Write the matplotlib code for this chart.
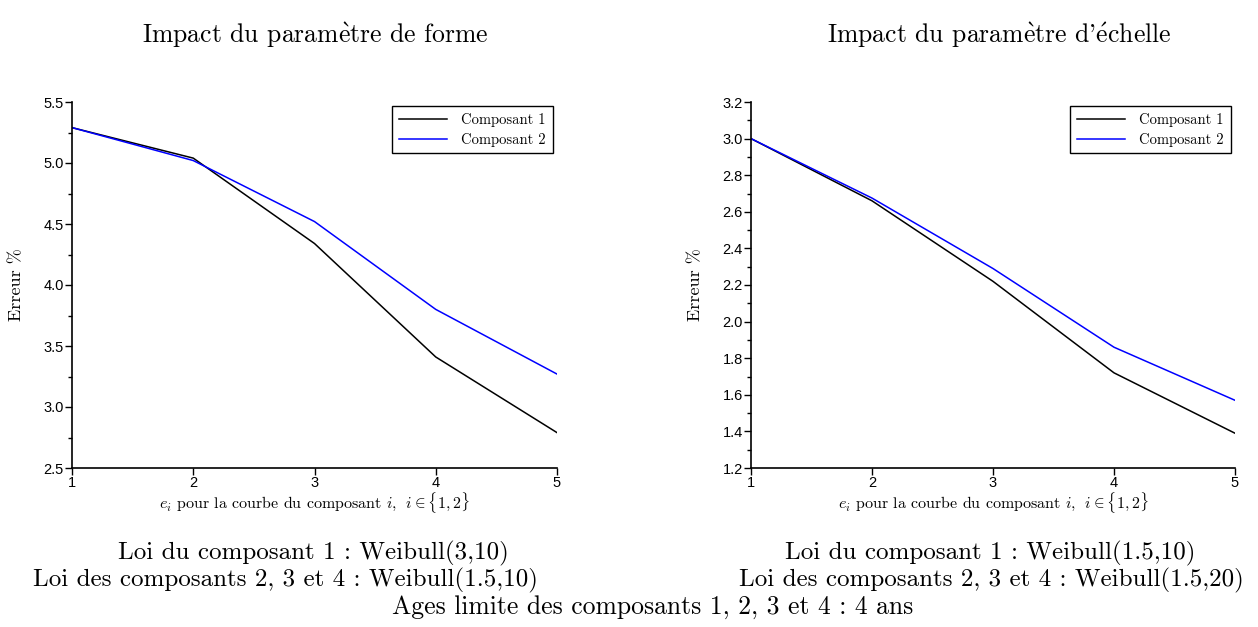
import numpy as np
import matplotlib
matplotlib.use("Agg")
import matplotlib.pyplot as plt
from matplotlib.ticker import MultipleLocator, FormatStrFormatter

plt.rcParams["mathtext.fontset"] = "cm"
SERIF = ["cmr10", "DejaVu Serif"]
SANS = "Liberation Sans"

e = [1, 2, 3, 4, 5]
forme_c1 = [5.29, 5.04, 4.34, 3.41, 2.79]
forme_c2 = [5.29, 5.02, 4.52, 3.80, 3.27]
echelle_c1 = [3.00, 2.66, 2.22, 1.72, 1.39]
echelle_c2 = [3.00, 2.675, 2.29, 1.86, 1.57]

# accents through mathtext, cmr10 has no è / é
titles = [r"Impact du param$\grave{\mathrm{e}}$tre de forme",
          r"Impact du param$\grave{\mathrm{e}}$tre d'$\acute{\mathrm{e}}$chelle"]
captions_left = ["Loi du composant 1 : Weibull(3,10)",
                 "Loi des composants 2, 3 et 4 : Weibull(1.5,10)"]
captions_right = ["Loi du composant 1 : Weibull(1.5,10)",
                  "Loi des composants 2, 3 et 4 : Weibull(1.5,20)"]
footer = "Ages limite des composants 1, 2, 3 et 4 : 4 ans"

fig = plt.figure(figsize=(12.58, 6.27), dpi=100)
W, H = 1258, 627
ax1 = fig.add_axes([72 / W, 1 - 468 / H, (557 - 72) / W, (468 - 102) / H])
ax2 = fig.add_axes([751 / W, 1 - 468 / H, (1235 - 751) / W, (468 - 102) / H])

panels = [
    (ax1, forme_c1, forme_c2, (2.5, 5.5), 0.5, 0.25),
    (ax2, echelle_c1, echelle_c2, (1.2, 3.2), 0.2, 0.1),
]

for ax, c1, c2, ylim, major, minor in panels:
    ax.plot(e, c1, color="black", lw=1.1, label="Composant 1")
    ax.plot(e, c2, color="blue", lw=1.1, label="Composant 2")
    ax.set_xlim(1, 5)
    ax.set_ylim(*ylim)
    ax.set_xticks(e)
    ax.yaxis.set_major_locator(MultipleLocator(major))
    ax.yaxis.set_minor_locator(MultipleLocator(minor))
    ax.yaxis.set_major_formatter(FormatStrFormatter("%.1f"))
    for s in ["top", "right"]:
        ax.spines[s].set_visible(False)
    for s in ["left", "bottom"]:
        ax.spines[s].set_linewidth(1.2)
    ax.tick_params(axis="both", which="major", direction="out", length=5, width=1.0,
                   labelsize=10.5, pad=1)
    ax.tick_params(axis="y", which="minor", direction="out", length=3, width=1.0)
    for lab in ax.get_xticklabels() + ax.get_yticklabels():
        lab.set_fontfamily(SANS)
    ax.set_xlabel(r"$e_i$ pour la courbe du composant $i$, $\ i \in \{1,2\}$",
                  fontsize=11.5, family=SERIF, labelpad=0)
    ax.set_ylabel("Erreur %", fontsize=13, family=SERIF)
    ax.yaxis.set_label_coords(-0.099, 0.5)
    leg = ax.legend(loc="upper right", fancybox=False, edgecolor="black",
                    framealpha=1, borderaxespad=0.3, handlelength=3.3,
                    handletextpad=1.0, prop={"family": SERIF, "size": 10.5},
                    labelspacing=0.4, borderpad=0.45)
    leg.get_frame().set_linewidth(1.0)

fig.text(315 / W, 1 - 35 / H, titles[0], ha="center", va="center", fontsize=18.5, family=SERIF)
fig.text(999 / W, 1 - 35 / H, titles[1], ha="center", va="center", fontsize=18.5, family=SERIF)
fig.text(313 / W, 1 - 553 / H, captions_left[0], ha="center", va="center", fontsize=18, family=SERIF)
fig.text(285 / W, 1 - 580 / H, captions_left[1], ha="center", va="center", fontsize=18, family=SERIF)
fig.text(990 / W, 1 - 553 / H, captions_right[0], ha="center", va="center", fontsize=18, family=SERIF)
fig.text(991 / W, 1 - 580 / H, captions_right[1], ha="center", va="center", fontsize=18, family=SERIF)
fig.text(653 / W, 1 - 607 / H, footer, ha="center", va="center", fontsize=18.5, family=SERIF)

fig.savefig("out.png", dpi=100)
